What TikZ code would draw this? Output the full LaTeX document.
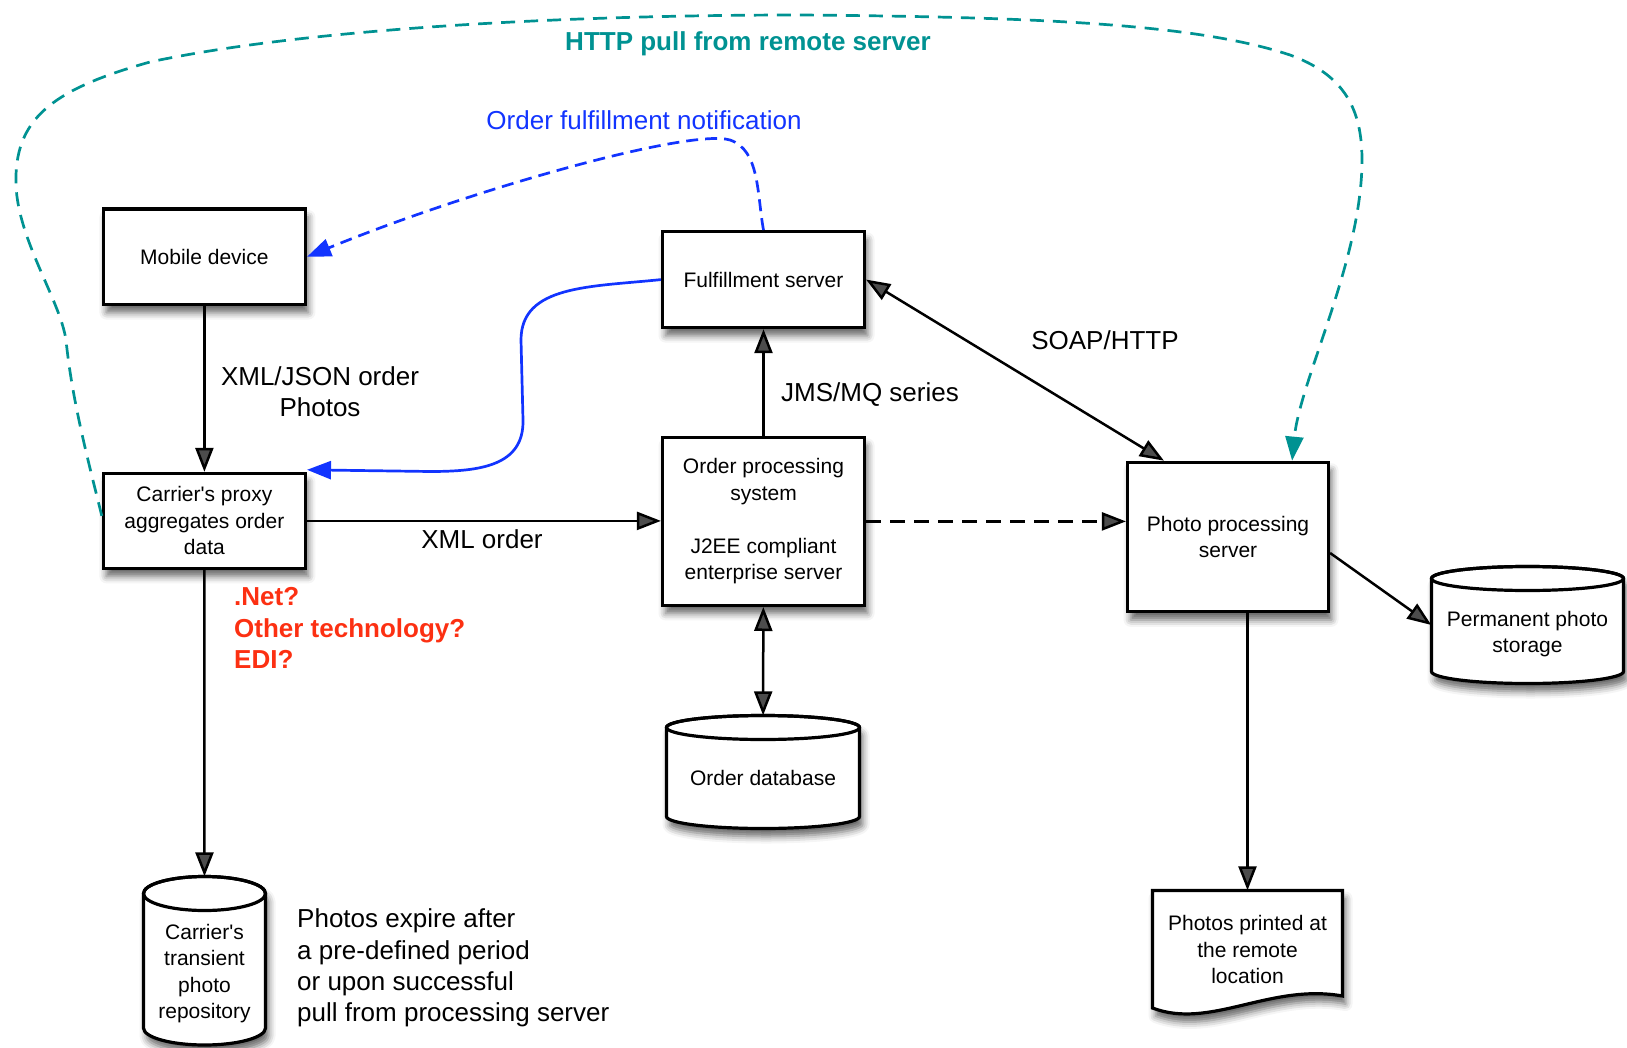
\documentclass[tikz,border=0pt]{standalone}
\usepackage{fontspec}
\setmainfont{Liberation Sans}
\usetikzlibrary{arrows.meta,shadows.blur,calc}

\definecolor{tealline}{RGB}{0,146,146}
\definecolor{notifyblue}{RGB}{18,52,255}
\definecolor{askred}{RGB}{252,48,18}

\newcommand\boxtextfont{\fontsize{21}{26.5}\selectfont}
\newcommand\edgetextfont{\fontsize{26}{31.3}\selectfont}
\newcommand\apos{\textquotesingle}

% storage drum: left, top, right, bottom, half-height of the end ellipses
\newcommand\drumoutline[5]{%
  \path[drumface] (#1,{#2+#5}) -- (#1,{#4-#5})
     arc[start angle=180, end angle=0, x radius={(#3-#1)/2}, y radius=#5]
     -- (#3,{#2+#5})
     arc[start angle=0, end angle=-180, x radius={(#3-#1)/2}, y radius=#5] -- cycle;
  \draw[line width=3.2pt] ({(#1+#3)/2},{#2+#5}) ellipse[x radius={(#3-#1)/2}, y radius=#5];
}

\begin{document}
\begin{tikzpicture}[x=1pt,y=-1pt,
  softshadow/.style={blur shadow={shadow xshift=3pt,shadow yshift=-8pt,shadow blur radius=7pt,shadow opacity=60}},
  box/.style={draw, line width=3.2pt, fill=white, softshadow, minimum width=202pt,
              align=center, font=\boxtextfont, inner sep=0pt},
  drumface/.style={draw, line width=3.2pt, fill=white, softshadow},
  hitarea/.style={draw=none, inner sep=0pt},
  boxtext/.style={align=center, font=\boxtextfont, inner sep=0pt},
  edgetext/.style={align=center, font=\edgetextfont, inner sep=0pt},
  tip/.style={-{Triangle[length=24pt,width=18pt]}},
  twotips/.style={{Triangle[length=24pt,width=18pt]}-{Triangle[length=24pt,width=18pt]}},
  conn/.style={line width=2.5pt},
]
\useasboundingbox (0,0) rectangle (1627,1048);

% ---------- boxes ----------
\node[box, minimum height=95.5pt] (mobile)  at (204.4,256.8) {Mobile device};
\node[box, minimum height=96pt]   (fulfill) at (763.5,279.6) {Fulfillment server};
\node[box, minimum height=95pt]   (proxy)   at (204.4,520.9) {Carrier\apos s proxy\\aggregates order\\data};
\node[box, minimum height=168pt]  (ops)     at (763.5,521.4)
  {Order processing\\system\\[26.5pt]J2EE compliant\\enterprise server};
\node[box, minimum width=201pt, minimum height=149.5pt] (pps) at (1228,537) {Photo processing\\server};

% ---------- storage drums ----------
\drumoutline{1431.5}{566.5}{1623.5}{683.5}{12}
\node[hitarea, minimum width=192pt, minimum height=117pt] (perm) at (1527.5,625) {};
\node[boxtext] (permtext) at (1527.5,634) {Permanent photo\\storage};

\drumoutline{666.5}{715.5}{859.5}{828.5}{12}
\node[hitarea, minimum width=193pt, minimum height=113pt] (odb) at (763,772) {};
\node[boxtext] (odbtext) at (763,778) {Order database};

\drumoutline{143.5}{876.5}{265.5}{1045}{17}
\node[hitarea, minimum width=122pt, minimum height=168.5pt] (trans) at (204.5,960.75) {};
\node[boxtext] (transtext) at (204.5,973.5) {Carrier\apos s\\transient\\photo\\repository};

% ---------- printed document ----------
\path[drumface] (1152.5,890.5) -- (1342.5,890.5) -- (1342.5,996)
   .. controls (1270,983) and (1210,1030) .. (1152.5,1008) -- cycle;
\node[hitarea, minimum width=190pt, minimum height=120pt] (printed) at (1247.5,950.5) {};
\node[boxtext] (printedtext) at (1247.5,949.5) {Photos printed at\\the remote\\location};

% ---------- solid black connectors ----------
\draw[conn, tip] (mobile) -- (proxy);
\draw[conn, tip] (proxy.east) -- (proxy.east -| ops.west);
\draw[conn, tip] (ops) -- (fulfill);
\draw[conn, twotips] (fulfill.east) -- ([xshift=38pt]pps.north west);
\draw[conn, twotips] (ops) -- (odb);
\draw[conn, tip] ([yshift=-16pt]pps.east) -- (perm.west);
\draw[conn, tip] (pps.south -| printed.north) -- (printed.north);
\draw[conn, tip] (proxy) -- (trans);

% ---------- dashed black connector ----------
\draw[conn, tip, dash pattern=on 15pt off 9pt] (ops.east) -- (ops.east -| pps.west);

% ---------- fulfillment callback to the proxy ----------
\draw[line width=2.7pt, notifyblue, tip] (fulfill.west)
   .. controls (590,287) and (521,285) .. (521,340) -- (523,420)
   .. controls (524,466) and (480,471.5) .. (430,471.5) -- ([yshift=2pt]proxy.north east);

% ---------- order fulfillment notification ----------
\draw[line width=2.7pt, notifyblue, tip, dash pattern=on 12pt off 7pt] (fulfill.north)
   .. controls (757,195) and (760,150) .. (730,140)
   .. controls (690,128) and (470,190) .. (mobile.east);

% ---------- HTTP pull from remote server ----------
\draw[line width=2.7pt, tealline, tip, dash pattern=on 14pt off 9pt] ([yshift=5pt]proxy.west)
   .. controls (88,460) and (72,400) .. (66,340)
   .. controls (60,300) and (18,240) .. (16,185)
   .. controls (14,120) and (50,90) .. (150,62)
   .. controls (300,30) and (550,15) .. (800,15)
   .. controls (1050,17) and (1200,25) .. (1290,55)
   .. controls (1345,75) and (1362,110) .. (1362,160)
   .. controls (1362,260) and (1300,380) .. ([xshift=-38pt]pps.north east);

% ---------- labels ----------
\node[edgetext] (lblxmljson) at (320,392) {XML/JSON order\\Photos};
\node[edgetext] (lbljms) at (870,395) {JMS/MQ series};
\node[edgetext] (lblsoap) at (1105,340) {SOAP/HTTP};
\node[edgetext] (lblxml) at (482,539) {XML order};
\node[edgetext, anchor=west, align=left, text=askred, font=\edgetextfont\bfseries] (lbltech)
  at (234,628) {.Net?\\Other technology?\\EDI?};
\node[edgetext, anchor=west, align=left] (lblexpire) at (297,968)
  {Photos expire after\\a pre-defined period\\or upon successful\\pull from processing server};
\node[edgetext, text=tealline, font=\edgetextfont\bfseries] (lblhttp) at (748,44) {HTTP pull from remote server};
\node[edgetext, text=notifyblue] (lblnotify) at (644,120) {Order fulfillment notification};
\end{tikzpicture}
\end{document}
